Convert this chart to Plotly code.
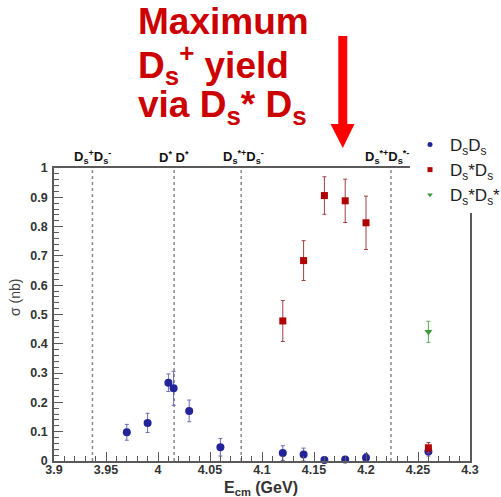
import plotly.graph_objects as go

# ---------------- data ----------------
dsds_x = [3.970, 3.990, 4.010, 4.015, 4.030, 4.060, 4.120, 4.140, 4.160, 4.180, 4.200, 4.260]
dsds_y = [0.098, 0.130, 0.267, 0.248, 0.171, 0.047, 0.027, 0.022, 0.003, 0.005, 0.011, 0.032]
dsds_e = [0.027, 0.033, 0.030, 0.058, 0.037, 0.030, 0.025, 0.022, 0.010, 0.010, 0.015, 0.015]

dssds_x = [4.120, 4.140, 4.160, 4.180, 4.200, 4.260]
dssds_y = [0.478, 0.684, 0.906, 0.888, 0.813, 0.045]
dssds_e = [0.070, 0.068, 0.064, 0.074, 0.091, 0.018]

dssdss_x = [4.260]
dssdss_y = [0.441]
dssdss_e = [0.036]

thresh_x = [3.937, 4.0155, 4.080, 4.224]
thresh_lbl = ["D<sub>s</sub><sup>+</sup>D<sub>s</sub><sup>-</sup>",
              "D<sup>*</sup> D<sup>*</sup>",
              "D<sub>s</sub><sup>*+</sup>D<sub>s</sub><sup>-</sup>",
              "D<sub>s</sub><sup>*+</sup>D<sub>s</sub><sup>*-</sup>"]
thresh_dx = [0, 0, 2, -4]

x_ticks = [3.9, 3.95, 4.0, 4.05, 4.1, 4.15, 4.2, 4.25, 4.3]
x_tick_lbl = ["3.9", "3.95", "4", "4.05", "4.1", "4.15", "4.2", "4.25", "4.3"]
y_ticks = [0, 0.1, 0.2, 0.3, 0.4, 0.5, 0.6, 0.7, 0.8, 0.9, 1]
y_tick_lbl = ["0", "0.1", "0.2", "0.3", "0.4", "0.5", "0.6", "0.7", "0.8", "0.9", "1"]

legend_names = ["D<sub>s</sub>D<sub>s</sub>", "D<sub>s</sub>*D<sub>s</sub>", "D<sub>s</sub>*D<sub>s</sub>*"]

BLUE = "#23239a"
RED = "#b00000"
GREEN = "#3a9a3a"
FONT = "Liberation Sans, Arial, Helvetica, sans-serif"

W, H = 501, 497
L, R, T, B = 54, 31, 168, 36
PW, PH = W - L - R, H - T - B


def px2paper_x(px):
    return (px - L) / PW


def px2paper_y(py):
    return (H - B - py) / PH


fig = go.Figure()

# vertical dotted threshold lines
for tx in thresh_x:
    fig.add_shape(type="line", x0=tx, x1=tx, y0=0, y1=1, xref="x", yref="y",
                  line=dict(color="#8a8a8a", width=1.5, dash="dot"), layer="below")

# data traces
fig.add_trace(go.Scatter(x=dsds_x, y=dsds_y, mode="markers", showlegend=False,
                         marker=dict(symbol="circle", size=8, color=BLUE),
                         error_y=dict(type="data", array=dsds_e, color="#6a6ab8", thickness=1, width=2),
                         cliponaxis=False))
fig.add_trace(go.Scatter(x=dssds_x, y=dssds_y, mode="markers", showlegend=False,
                         marker=dict(symbol="square", size=7, color=RED),
                         error_y=dict(type="data", array=dssds_e, color="#a04040", thickness=1, width=2),
                         cliponaxis=False))
fig.add_trace(go.Scatter(x=dssdss_x, y=dssdss_y, mode="markers", showlegend=False,
                         marker=dict(symbol="triangle-down", size=7, color=GREEN),
                         error_y=dict(type="data", array=dssdss_e, color="#5aaa5a", thickness=1, width=2),
                         cliponaxis=False))

# legend-only entries (small markers as in the reference)
for name, sym, col in zip(legend_names, ["circle", "square", "triangle-down"], [BLUE, RED, GREEN]):
    fig.add_trace(go.Scatter(x=[None], y=[None], mode="markers", name=name,
                             marker=dict(symbol=sym, size=5, color=col)))

# threshold labels
for tx, lbl, dx in zip(thresh_x, thresh_lbl, thresh_dx):
    fig.add_annotation(x=tx, y=px2paper_y(157), xref="x", yref="paper", text="<b>" + lbl + "</b>",
                       showarrow=False, xanchor="center", yanchor="middle", xshift=dx,
                       font=dict(family=FONT, size=13, color="#111"))

# big red title lines
title_lines = ["<b>Maximum</b>",
               "<b>D<sub>s</sub><sup>+</sup> yield</b>",
               "<b>via D<sub>s</sub>* D<sub>s</sub></b>"]
title_y = [22, 64, 107]
for txt, ty in zip(title_lines, title_y):
    fig.add_annotation(x=px2paper_x(136), y=px2paper_y(ty), xref="paper", yref="paper", text=txt,
                       showarrow=False, xanchor="left", yanchor="middle",
                       font=dict(family=FONT, size=37, color="#cc0000"))

# red arrow (shaft + head)
ax0, ax1 = px2paper_x(338.3), px2paper_x(347.3)
fig.add_shape(type="rect", xref="paper", yref="paper", x0=ax0, x1=ax1,
              y0=px2paper_y(36), y1=px2paper_y(125), fillcolor="#ff0000", line=dict(width=0))
hx0, hx1, hxc = px2paper_x(330.5), px2paper_x(354.5), px2paper_x(342.8)
hy0, hy1 = px2paper_y(124), px2paper_y(148)
fig.add_shape(type="path", xref="paper", yref="paper",
              path=f"M {hx0} {hy0} L {hx1} {hy0} L {hxc} {hy1} Z",
              fillcolor="#ff0000", line=dict(width=0))

# axis titles
fig.add_annotation(x=px2paper_x(300), y=px2paper_y(488), xref="paper", yref="paper",
                   text="<b>E<sub>cm</sub> (GeV)</b>", showarrow=False, xanchor="right", yanchor="middle",
                   font=dict(family=FONT, size=16, color="#333"))
fig.add_annotation(x=px2paper_x(15), y=px2paper_y(298), xref="paper", yref="paper",
                   text="σ (nb)", showarrow=False, textangle=-90, xanchor="center", yanchor="middle",
                   font=dict(family=FONT, size=14, color="#444"))

axis_common = dict(showgrid=False, zeroline=False, showline=True, linecolor="#5a5a5a", linewidth=1.5,
                   mirror=True, ticks="inside", tickcolor="#5a5a5a", tickwidth=1,
                   tickfont=dict(family=FONT, size=12.5, color="#333", weight="bold"))

fig.update_xaxes(range=[3.9, 4.3], tickvals=x_ticks, ticktext=x_tick_lbl, ticklen=9,
                 minor=dict(dtick=0.01, tick0=3.9, ticks="inside", ticklen=5, tickcolor="#5a5a5a", tickwidth=1),
                 ticklabelstandoff=-4, **axis_common)
fig.update_yaxes(range=[0, 1], tickvals=y_ticks, ticktext=y_tick_lbl, ticklen=9,
                 minor=dict(dtick=0.02, tick0=0, ticks="inside", ticklen=5, tickcolor="#5a5a5a", tickwidth=1),
                 ticklabelstandoff=2, **axis_common)

fig.update_layout(
    width=W, height=H,
    margin=dict(l=L, r=R, t=T, b=B, autoexpand=False),
    paper_bgcolor="white", plot_bgcolor="white",
    legend=dict(x=px2paper_x(410), y=px2paper_y(127), xanchor="left", yanchor="top",
                bgcolor="white", borderwidth=0, font=dict(family=FONT, size=17, color="#222"),
                tracegroupgap=0, itemwidth=30),
)

fig.write_html("out.html")
